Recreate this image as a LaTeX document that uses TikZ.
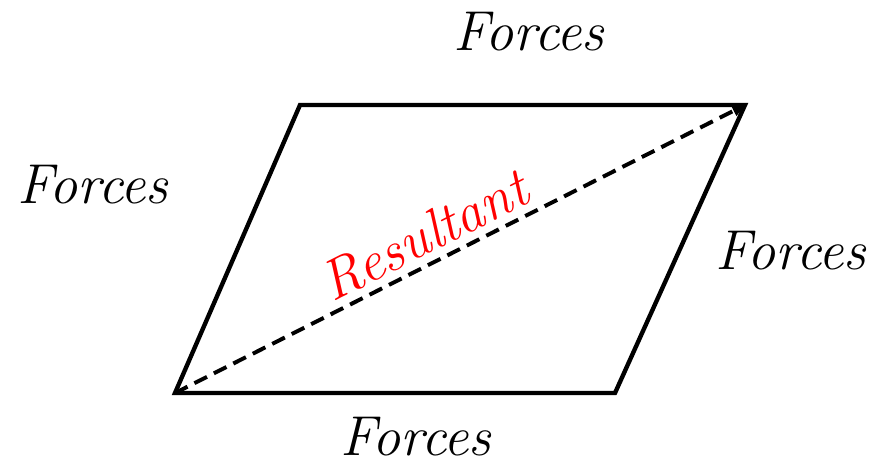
\documentclass[tikz,border=0pt]{standalone}
\usepackage{fontspec}
\usetikzlibrary{arrows.meta, calc}

\begin{document}
\begin{tikzpicture}[x=0.025cm, y=-0.025cm,
  every node/.style={font=\fontsize{40}{48}\selectfont\itshape, inner sep=0pt},
  side/.style={line width=3.1pt, line join=miter},
  force/.style={anchor=base},
  resultant/.style={line width=2.8pt, dash pattern=on 10pt off 5.5pt, -{Triangle[length=9pt, width=8pt]}},
]
\useasboundingbox (0,0) rectangle (876,468);
% corners of the parallelogram
\coordinate (bl) at (175,393);
\coordinate (br) at (615,393);
\coordinate (tr) at (745,105);
\coordinate (tl) at (300,105);
\draw[side] (bl) -- (br) -- (tr) -- (tl) -- cycle;
\draw[resultant] (bl) -- (tr);
\path (bl) -- (tr) node[pos=0.46, sloped, anchor=base, yshift=7pt, text=red] (res) {Resultant};
% labels
\node[force] (ftop) at (529,50) {Forces};
\node[force] (fleft) at (93,203) {Forces};
\node[force] (fright) at (791,269) {Forces};
\node[force] (fbot) at (416,455) {Forces};
\end{tikzpicture}
\end{document}
